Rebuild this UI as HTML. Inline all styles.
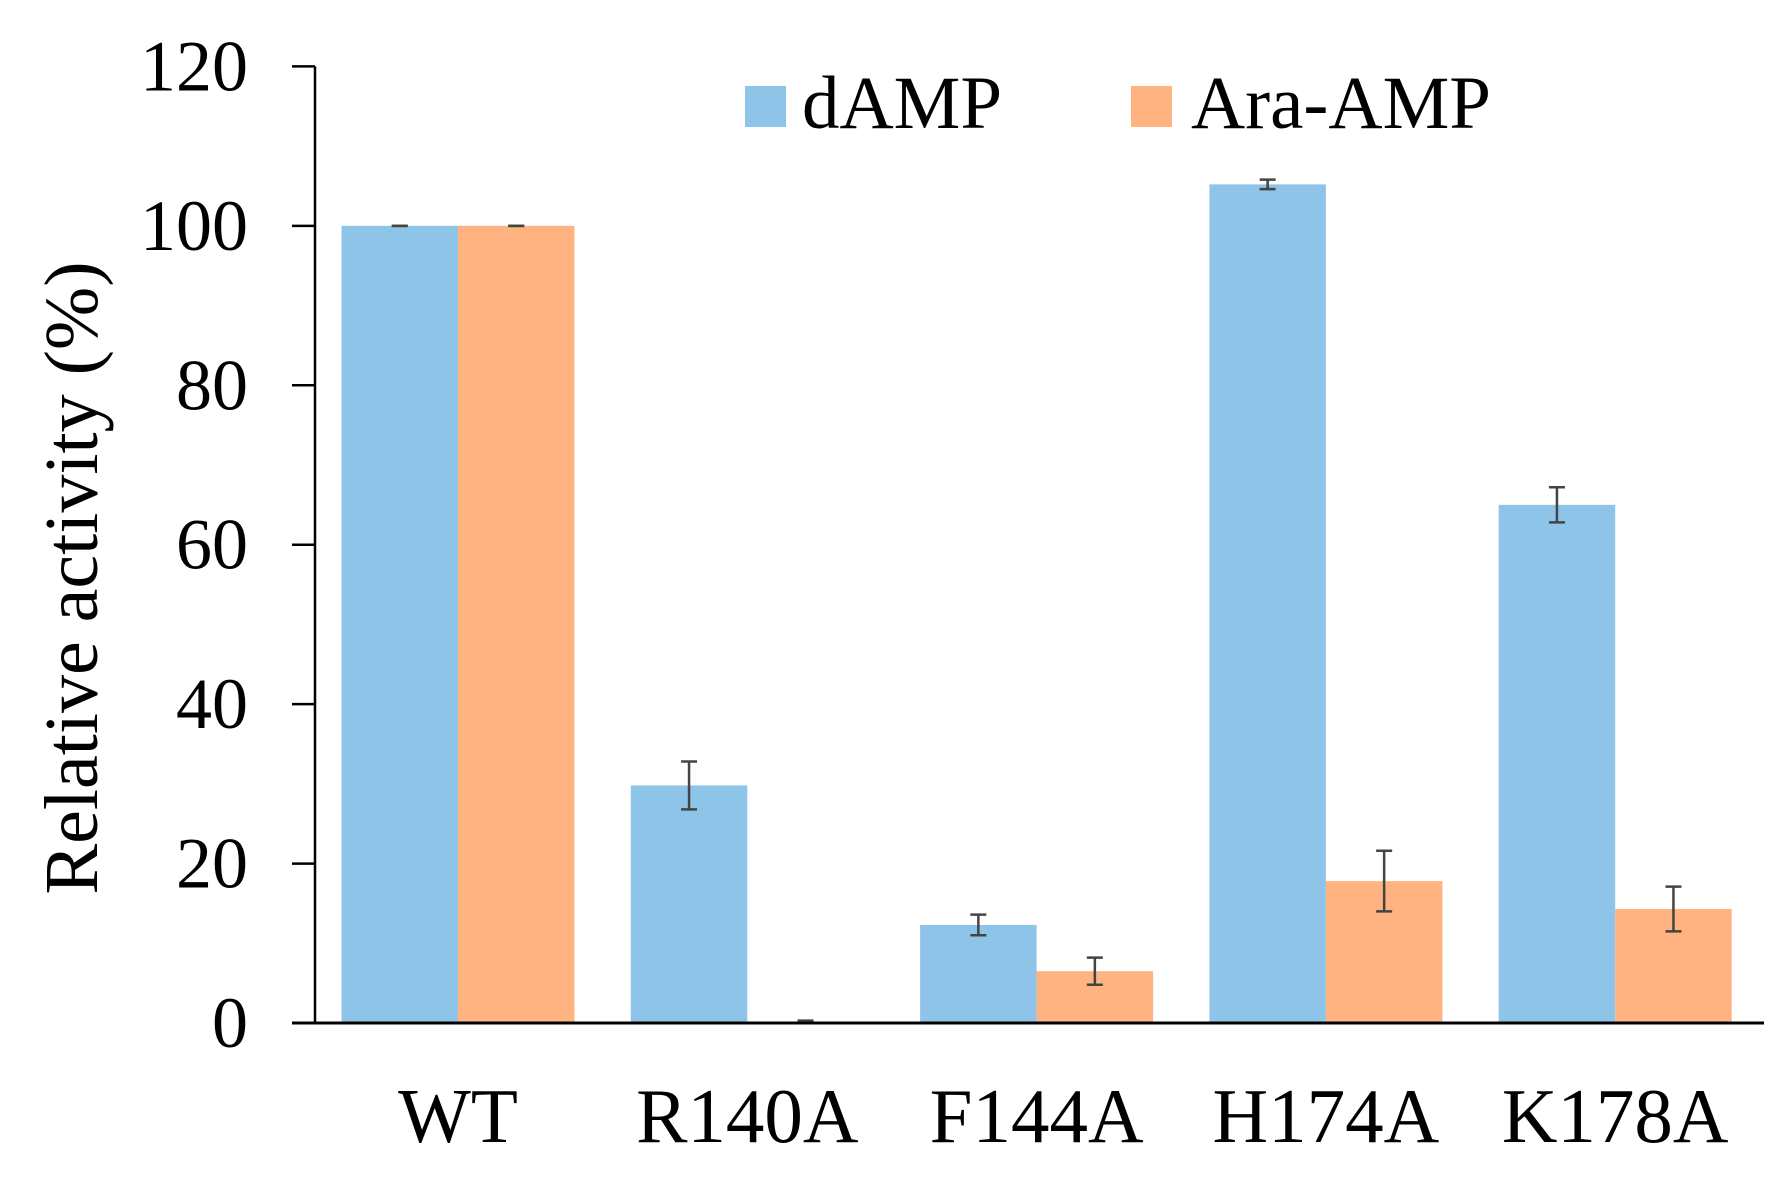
<!DOCTYPE html>
<html><head><meta charset="utf-8"><style>
html,body{margin:0;padding:0;background:#fff;}
svg{display:block;font-family:"Liberation Serif",serif;}
</style></head><body>
<svg id="chart" width="1787" height="1180" viewBox="0 0 1787 1180"></svg>
<script>
const categories=["WT","R140A","F144A","H174A","K178A"];
const dampValues=[100,29.8,12.3,105.2,65];
const dampErrors=[0,3,1.3,0.6,2.2];
const araValues=[100,0,6.5,17.8,14.3];
const araErrors=[0,0.3,1.7,3.8,2.8];
const yTicks=[0,20,40,60,80,100,120];
const seriesNames=["dAMP","Ara-AMP"];

const NS="http://www.w3.org/2000/svg";
const svg=document.getElementById('chart');
const x0=315,yTop=66.4,yBot=1023,yMax=120,xEnd=1764;
const groupW=289.3,barW=116.5,firstLeft=341.5;
const y=v=>yBot-(v/yMax)*(yBot-yTop);
const groupLeft=i=>firstLeft+i*groupW;
function mk(tag,attrs,parent){const e=document.createElementNS(NS,tag);for(const k in attrs)e.setAttribute(k,attrs[k]);(parent||svg).appendChild(e);return e;}
const colors=["#8EC4E8","#FFB380"];

const series=[[dampValues,dampErrors],[araValues,araErrors]];
series.forEach((s,si)=>{
  categories.forEach((c,i)=>{
    const v=s[0][i],xl=groupLeft(i)+si*barW;
    const r=mk('rect',{x:xl,y:y(v),width:barW,height:yBot-y(v),fill:colors[si]});
    
    
  });
});
series.forEach((s,si)=>{
  categories.forEach((c,i)=>{
    const v=s[0][i],e=s[1][i],cx=groupLeft(i)+si*barW+barW/2;
    const g=mk('g',{stroke:'#444','stroke-width':2.5});
    
    
    mk('line',{x1:cx,x2:cx,y1:y(v+e),y2:y(Math.max(0,v-e))},g);
    mk('line',{x1:cx-8,x2:cx+8,y1:y(v+e),y2:y(v+e)},g);
    mk('line',{x1:cx-8,x2:cx+8,y1:y(Math.max(0,v-e)),y2:y(Math.max(0,v-e))},g);
  });
});
const ya=mk('line',{x1:x0,x2:x0,y1:yTop,y2:yBot,stroke:'#000','stroke-width':2.5});

const xa=mk('line',{x1:292,x2:xEnd,y1:yBot,y2:yBot,stroke:'#000','stroke-width':3});

yTicks.forEach(t=>{
  const tk=mk('line',{x1:292,x2:x0,y1:y(t),y2:y(t),stroke:'#000','stroke-width':2.5});
  
  const tl=mk('text',{x:248,y:y(t)+24,'text-anchor':'end','font-size':72,fill:'#000'});
  tl.textContent=t;
  
});
categories.forEach((c,i)=>{
  const t=mk('text',{x:groupLeft(i)+barW,y:1142,'text-anchor':'middle','font-size':77,fill:'#000'});
  t.textContent=c;
  
});
const yt=mk('text',{x:0,y:0,'text-anchor':'middle','font-size':76,fill:'#000',transform:'translate(97,578) rotate(-90)'});
yt.textContent='Relative activity (%)';

const legX=[745,1131],legT=[802,1191];
seriesNames.forEach((n,si)=>{
  const g=mk('g',{});
  
  mk('rect',{x:legX[si],y:86,width:41,height:41,fill:colors[si]},g);
  const t=mk('text',{x:legT[si],y:128,'font-size':75,fill:'#000'},g);
  t.textContent=n;
});
</script>
</body></html>
